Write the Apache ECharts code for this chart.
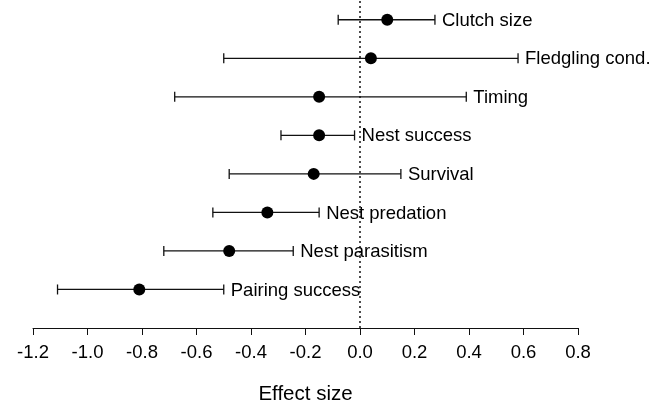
<!DOCTYPE html>
<html>
<head>
<meta charset="utf-8">
<script src="https://cdn.jsdelivr.net/npm/echarts@6/dist/echarts.min.js"></script>
<style>
html,body{margin:0;padding:0;background:#fff;}
#c{width:665px;height:410px;}
</style>
</head>
<body>
<div id="c"></div>
<script>
const categories = ['Pairing success','Nest parasitism','Nest predation','Survival','Nest success','Timing','Fledgling cond.','Clutch size'];
const means = [-0.81, -0.48, -0.34, -0.17, -0.15, -0.15, 0.04, 0.10];
const lower = [-1.11, -0.72, -0.54, -0.48, -0.29, -0.68, -0.50, -0.08];
const upper = [-0.50, -0.245, -0.15, 0.15, -0.02, 0.39, 0.58, 0.275];
const xTicks = [-1.2, -1.0, -0.8, -0.6, -0.4, -0.2, 0.0, 0.2, 0.4, 0.6, 0.8];

const FONT = '"Liberation Sans", Arial, Helvetica, sans-serif';
const chart = echarts.init(document.getElementById('c'), null, {renderer: 'canvas'});

const barData = categories.map((c, i) => [lower[i], upper[i], i + 1, c]);
const dotData = categories.map((c, i) => [means[i], i + 1]);

chart.setOption({
  animation: false,
  backgroundColor: '#fff',
  grid: {left: 33, right: 87, top: 0.5, bottom: 71},
  xAxis: {
    type: 'value', min: -1.2, max: 0.8, interval: 0.2,
    axisLine: {show: true, lineStyle: {color: '#111', width: 1}},
    axisTick: {show: true, inside: false, length: 7, lineStyle: {color: '#111', width: 1}},
    axisLabel: {
      color: '#000', fontFamily: FONT, fontSize: 18.5, margin: 15,
      formatter: v => xTicks.some(t => Math.abs(t - v) < 1e-9) ? v.toFixed(1) : ''
    },
    splitLine: {show: false},
    name: 'Effect size', nameLocation: 'middle', nameGap: 56,
    nameTextStyle: {color: '#000', fontFamily: FONT, fontSize: 20.5}
  },
  yAxis: {
    type: 'value', min: 0, max: 8.5, show: false
  },
  series: [
    {
      type: 'line',
      data: [[0, 0], [0, 8.5]],
      symbol: 'none',
      lineStyle: {color: '#111', width: 1.5, type: [2, 3]},
      silent: true, z: 1
    },
    {
      type: 'custom',
      data: barData,
      z: 2,
      renderItem: function (params, api) {
        const y = api.value(2);
        const p1 = api.coord([api.value(0), y]);
        const p2 = api.coord([api.value(1), y]);
        const h = 5;
        return {
          type: 'group',
          children: [
            {type: 'line', shape: {x1: p1[0], y1: p1[1], x2: p2[0], y2: p2[1]}, style: {stroke: '#111', lineWidth: 1.3}},
            {type: 'line', shape: {x1: p1[0], y1: p1[1] - h, x2: p1[0], y2: p1[1] + h}, style: {stroke: '#111', lineWidth: 1.3}},
            {type: 'line', shape: {x1: p2[0], y1: p2[1] - h, x2: p2[0], y2: p2[1] + h}, style: {stroke: '#111', lineWidth: 1.3}},
            {type: 'text', style: {
              text: categories[params.dataIndex], x: p2[0] + 7, y: p2[1] + 1,
              fill: '#000', font: '18.5px ' + FONT, align: 'left', verticalAlign: 'middle'
            }}
          ]
        };
      }
    },
    {
      type: 'scatter',
      data: dotData,
      symbol: 'circle',
      symbolSize: 12,
      itemStyle: {color: '#000', opacity: 1},
      z: 3
    }
  ]
});
</script>
</body>
</html>
